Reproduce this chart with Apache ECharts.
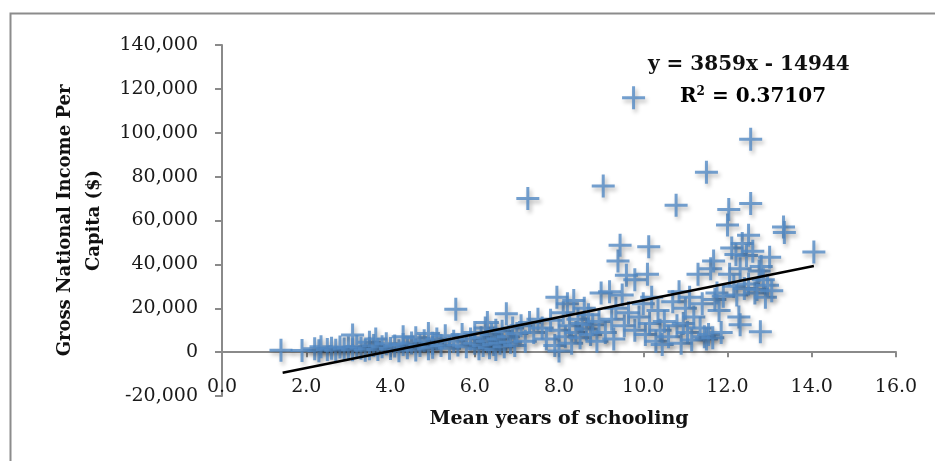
<!DOCTYPE html>
<html>
<head>
<meta charset="utf-8">
<script src="https://cdn.jsdelivr.net/npm/echarts@6/dist/echarts.min.js"></script>
<style>
  html, body { margin: 0; padding: 0; background: #fff; }
  #main { width: 935px; height: 461px; }
</style>
</head>
<body>
<div id="main"></div>
<script>
// mean years of schooling vs GNI per capita, one pair per country
var schooling = [
  1.4, 1.9, 2.2, 2.3, 2.35, 2.5, 2.6, 2.7, 2.8, 2.9, 3.0, 3.1, 3.1, 3.2,
  3.3, 3.4, 3.5, 3.5, 3.6, 3.65, 3.7, 3.8, 3.9, 4.0, 4.1, 4.2, 4.3, 4.3, 4.4, 4.5, 4.6, 4.6, 4.7, 4.8, 4.9, 4.9, 5.0, 5.0,
  5.1, 5.2, 5.3, 5.4, 5.5, 5.55, 5.6, 5.7, 5.8, 5.9, 6.0, 6.0, 6.1, 6.15, 6.2, 6.25, 6.3, 6.3, 6.35, 6.4, 6.45, 6.5, 6.5, 6.55, 6.6, 6.65, 6.7, 6.75, 6.8, 6.85, 6.9, 6.95, 7.0,
  7.1, 7.2, 7.26, 7.3, 7.4, 7.5, 7.6, 7.7, 7.8, 7.9, 7.95, 8.0, 8.0, 8.1, 8.15, 8.2, 8.25, 8.3, 8.35, 8.4, 8.45, 8.5, 8.55, 8.6, 8.65, 8.7, 8.75, 8.8, 8.9, 8.95,
  9.0, 9.05, 9.1, 9.2, 9.25, 9.3, 9.35, 9.4, 9.45, 9.5, 9.55, 9.6, 9.65, 9.77, 9.8, 9.8, 9.9, 10.0, 10.05, 10.1, 10.13, 10.15, 10.2, 10.3, 10.35, 10.4, 10.45, 10.5, 10.6, 10.7, 10.78, 10.8, 10.85, 10.9, 10.95,
  11.0, 11.05, 11.1, 11.15, 11.2, 11.3, 11.35, 11.4, 11.45, 11.5, 11.5, 11.55, 11.6, 11.65, 11.67, 11.7, 11.75, 11.8, 11.85, 11.9,
  12.0, 12.03, 12.05, 12.1, 12.15, 12.2, 12.22, 12.27, 12.3, 12.3, 12.35, 12.4, 12.45, 12.5, 12.5, 12.55, 12.55, 12.6, 12.65, 12.7, 12.75, 12.78, 12.8, 12.85, 12.9, 12.95, 13.0, 13.05, 13.33, 13.35, 14.05
];
var income = [
  800, 700, 1500, 600, 2500, 1200, 1800, 900, 2300, 1400, 2000, 7800, 1100, 2600,
  1800, 900, 4500, 1500, 3000, 6000, 1200, 2500, 3800, 1700, 2800, 600, 7000, 3500, 2000, 4200, 1000, 6500, 3000, 5200, 1500, 8500, 4000, 2200,
  6000, 3000, 7500, 1800, 5000, 19500, 3200, 8000, 2500, 6000, 4000, 9000, 1500, 6500, 3000, 11000, 13500, 5000, 2000, 8000, 3500, 10000, 1200, 6000, 4000, 9500, 2500, 17500, 7000, 4500, 11000, 3000, 8500,
  12000, 5000, 70000, 13500, 9000, 15000, 11000, 6000, 14500, 3000, 25000, 10000, 500, 18000, 7000, 22000, 12000, 4000, 23500, 9000, 15000, 6500, 13000, 20000, 10500, 17000, 8000, 12500, 5000, 14000,
  27000, 75700, 9000, 27500, 15000, 6000, 20000, 41500, 48700, 26000, 12000, 35000, 18000, 116000, 33000, 10000, 16000, 22000, 8000, 35500, 48000, 13000, 25000, 5000, 19000, 10000, 3500, 14000, 7000, 23000, 67000, 12000, 27500, 4000, 13000,
  20000, 9000, 25000, 5500, 16000, 35500, 11000, 22000, 7000, 82000, 6000, 8000, 38000, 6500, 41500, 24000, 27000, 19000, 9000, 25500,
  58000, 65000, 35500, 47500, 30000, 44500, 26000, 16000, 12500, 38000, 49500, 29000, 44000, 53300, 31000, 97000, 67800, 46000, 27000, 28500, 37000, 9300, 39000, 33000, 25000, 30500, 43300, 28000, 57000, 54500, 45600
];

// trendline shown on the chart
var slope = 3859;
var intercept = -14944;
var trendX = [1.44, 14.05];
var trendLabel = 'y = 3859x - 14944';
var r2Label = '0.37107';

var xTicks = { min: 0, max: 16, step: 2 };
var yTicks = { min: -20000, max: 140000, step: 20000 };

var points = [];
for (var i = 0; i < schooling.length; i++) {
  points.push([schooling[i], income[i]]);
}
var trend = trendX.map(function (x) { return [x, slope * x + intercept]; });

var plus = 'path://M10,0H13V10H23V13H13V23H10V13H0V10H10Z';
var serif = 'DejaVu Serif';
var axisGray = '#8a8a8a';

var myChart = echarts.init(document.getElementById('main'));

var option = {
  animation: false,
  backgroundColor: '#fff',
  grid: { left: 222, right: 39, top: 45, bottom: 65, containLabel: false, outerBoundsMode: 'none' },
  xAxis: {
    type: 'value',
    min: xTicks.min,
    max: xTicks.max,
    interval: xTicks.step,
    name: 'Mean years of schooling',
    nameLocation: 'middle',
    nameGap: 14,
    nameTextStyle: { fontFamily: serif, fontWeight: 'bold', fontSize: 19, color: '#111' },
    axisLine: { onZero: true, lineStyle: { color: axisGray, width: 2 } },
    axisTick: { show: true, length: 5, lineStyle: { color: axisGray, width: 2 } },
    axisLabel: {
      margin: -18,
      fontFamily: serif, fontSize: 19, color: '#1a1a1a',
      formatter: function (v) { return v.toFixed(1); }
    },
    splitLine: { show: false }
  },
  yAxis: {
    type: 'value',
    min: yTicks.min,
    max: yTicks.max,
    interval: yTicks.step,
    name: 'Gross National Income Per\nCapita ($)',
    nameLocation: 'middle',
    nameRotate: 90,
    nameGap: 113,
    nameTextStyle: { fontFamily: serif, fontWeight: 'bold', fontSize: 18, color: '#111', lineHeight: 29 },
    axisLine: { show: true, onZero: false, lineStyle: { color: axisGray, width: 2 } },
    axisTick: { show: true, length: 7, lineStyle: { color: axisGray, width: 2 } },
    axisLabel: {
      margin: 24,
      fontFamily: serif, fontSize: 19, color: '#1a1a1a',
      formatter: function (v) { return v.toLocaleString('en-US'); }
    },
    splitLine: { show: false }
  },
  graphic: [
    {
      type: 'rect', left: 8, top: 11, silent: true, z: -10,
      shape: { width: 1000, height: 1000 },
      style: { fill: 'none', stroke: '#8c8c8c', lineWidth: 2 }
    },
    {
      type: 'text', left: 648, top: 55,
      style: { text: trendLabel, font: 'bold 20px "DejaVu Serif"', fill: '#111' }
    },
    {
      type: 'text', left: 680, top: 86,
      style: {
        text: '{b|R}{s|2}{b| = ' + r2Label + '}',
        rich: {
          b: { fontFamily: serif, fontWeight: 'bold', fontSize: 20, color: '#111' },
          s: { fontFamily: serif, fontWeight: 'bold', fontSize: 12, color: '#111', verticalAlign: 'top', padding: [0, 0, 10, 0] }
        }
      }
    }
  ],
  series: [
    {
      name: 'GNI per capita',
      type: 'scatter',
      data: points,
      symbol: plus,
      symbolSize: 23,
      itemStyle: {
        color: '#5289c4',
        shadowBlur: 4,
        shadowColor: 'rgba(0,0,0,0.35)',
        shadowOffsetX: 2,
        shadowOffsetY: 3
      },
      z: 2
    },
    {
      name: 'Trend',
      type: 'line',
      data: trend,
      showSymbol: false,
      symbol: 'none',
      lineStyle: { color: '#000', width: 2.5 },
      z: 3
    }
  ]
};

myChart.setOption(option);
</script>
</body>
</html>
